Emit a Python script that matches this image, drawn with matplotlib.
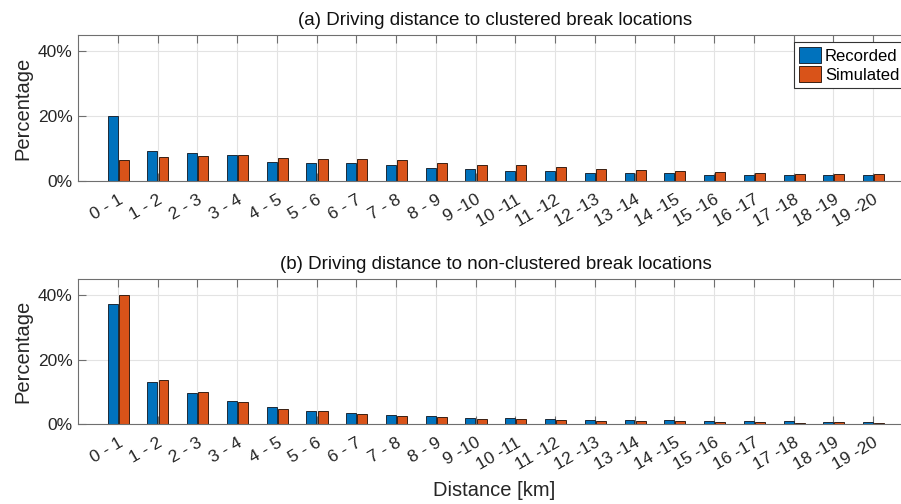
import matplotlib
matplotlib.use("Agg")
import matplotlib.pyplot as plt
import numpy as np
from matplotlib.ticker import PercentFormatter

plt.rcParams["font.family"] = ["Liberation Sans", "DejaVu Sans"]

# distance bins (km) and share of break locations per bin, in percent
bins = [f"{i} -{i + 1:2d}" for i in range(20)]

clustered_recorded = [20.0, 9.4, 8.5, 7.9, 6.0, 5.7, 5.4, 4.8, 4.1, 3.6,
                      3.2, 3.1, 2.4, 2.6, 2.6, 2.0, 2.0, 1.7, 1.7, 1.7]
clustered_simulated = [6.6, 7.5, 7.6, 7.9, 7.2, 6.7, 6.7, 6.6, 5.5, 4.8,
                       4.8, 4.2, 3.8, 3.5, 3.1, 2.8, 2.6, 2.3, 2.1, 2.3]

nonclustered_recorded = [37.2, 13.0, 9.7, 7.1, 5.2, 4.0, 3.4, 2.8, 2.5, 1.9,
                         2.0, 1.7, 1.25, 1.15, 1.15, 0.9, 0.9, 0.8, 0.6, 0.6]
nonclustered_simulated = [40.0, 13.75, 10.0, 6.9, 4.8, 4.0, 3.2, 2.6, 2.2, 1.6,
                          1.6, 1.25, 0.9, 0.9, 0.8, 0.6, 0.6, 0.4, 0.5, 0.4]

BLUE = "#0072BD"
ORANGE = "#D95319"
AXIS = "#6f6f6f"
TEXT = "#262626"

fig = plt.figure(figsize=(9.01, 5.04), dpi=100)
# right edge deliberately runs past the figure
ax_a = fig.add_axes([78 / 901, 1 - 181 / 504, 835 / 901, 146 / 504])
ax_b = fig.add_axes([78 / 901, 1 - 424 / 504, 835 / 901, 145 / 504])


def draw_panel(ax, recorded, simulated, title, legend=False):
    x = np.arange(1, len(bins) + 1)
    w = 0.25
    ax.set_axisbelow(True)
    ax.grid(True, color="#e3e3e3", lw=0.8)
    ax.bar(x - 0.13, recorded, w, color=BLUE, edgecolor="#1c2a38", lw=0.7,
           label="Recorded", zorder=2)
    ax.bar(x + 0.15, simulated, w, color=ORANGE, edgecolor="#3a1f12", lw=0.7,
           label="Simulated", zorder=2)
    ax.set_xlim(0, 21)
    ax.set_ylim(0, 45)
    ax.set_yticks([0, 20, 40])
    ax.yaxis.set_major_formatter(PercentFormatter(decimals=0))
    ax.set_xticks(x)
    ax.set_xticklabels(bins, rotation=30, ha="right", va="top",
                       rotation_mode="anchor")
    ax.tick_params(direction="in", length=6, width=0.8, color=AXIS,
                   labelcolor=TEXT, labelsize=12.5, top=True, right=True,
                   pad=4)
    ax.tick_params(axis="x", pad=8)
    for s in ax.spines.values():
        s.set_color(AXIS)
        s.set_linewidth(0.8)
    ax.set_ylabel("Percentage", fontsize=14.5, color=TEXT, labelpad=4)
    ax.set_title(title, fontsize=13.5, color="#111111", pad=7)
    if legend:
        leg = ax.legend(loc="upper left", bbox_to_anchor=(0.8575, 0.952),
                        fontsize=12, fancybox=False, edgecolor="#333333",
                        framealpha=1, handlelength=1.3, handleheight=1.1,
                        handletextpad=0.25, borderpad=0.3, labelspacing=0.15,
                        borderaxespad=0)
        leg.get_frame().set_linewidth(0.8)


draw_panel(ax_a, clustered_recorded, clustered_simulated,
           "(a) Driving distance to clustered break locations", legend=True)
draw_panel(ax_b, nonclustered_recorded, nonclustered_simulated,
           "(b) Driving distance to non-clustered break locations")

fig.text(494 / 901, 1 - 490 / 504, "Distance [km]", ha="center", va="center",
         fontsize=14.5, color=TEXT)

fig.savefig("out.png", dpi=100)
